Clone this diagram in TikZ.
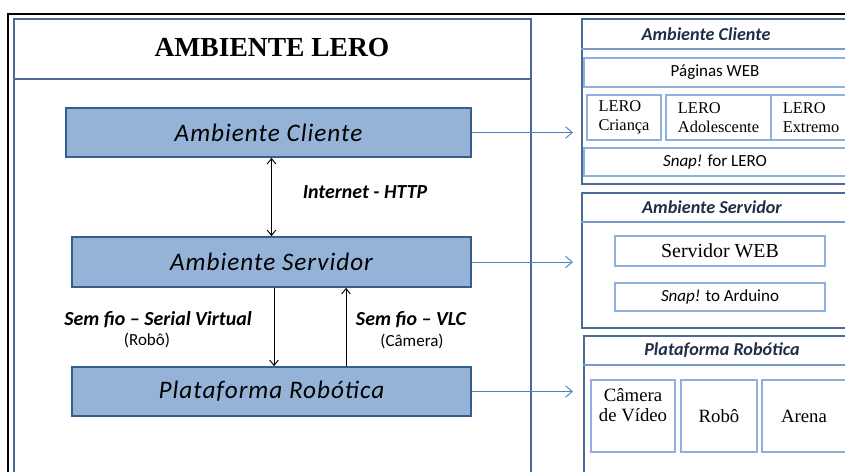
\documentclass[tikz,border=0pt]{standalone}
\usepackage{fontspec}
\setmainfont{Liberation Serif}
\newfontfamily\calibri{Carlito}
\newfontfamily\caixafont[LetterSpace=4]{Carlito}
\usetikzlibrary{arrows.meta}
\definecolor{caixaAzul}{HTML}{95B3D7}
\definecolor{bordaCaixa}{HTML}{385D8A}
\definecolor{bordaPainel}{HTML}{4A6B98}
\definecolor{bordaClara}{HTML}{8EB0DE}
\definecolor{setaAzul}{HTML}{4F81BD}
\definecolor{tituloAzul}{HTML}{1F2D4A}
\newcommand\pxu{0.03cm}

\begin{document}
\begin{tikzpicture}[x=0.03cm, y=-0.03cm,
    >={Straight Barb[length=1.6mm, width=2.6mm]},
    caixa/.style={shape=rectangle, draw=bordaCaixa, fill=caixaAzul, line width=1.5pt, inner sep=0pt, font=\caixafont\itshape\fontsize{21.5}{26}\selectfont},
    painel/.style={shape=rectangle, draw=bordaPainel, line width=1.6pt, anchor=north west, inner sep=0pt},
    divisao/.style={draw=bordaClara!70!bordaPainel, line width=1.2pt},
    interna/.style={shape=rectangle, draw=bordaClara, line width=1pt, inner sep=0pt},
    titulopainel/.style={font=\calibri\bfseries\itshape\fontsize{15.5}{18}\selectfont, text=tituloAzul},
    rotulo/.style={font=\calibri\bfseries\itshape\fontsize{17}{20}\selectfont},
    subrotulo/.style={font=\calibri\fontsize{14.5}{17}\selectfont},
    textocalibri/.style={font=\calibri\fontsize{14.5}{17}\selectfont},
    textoserifa/.style={font=\fontsize{16}{17}\selectfont},
    textolero/.style={font=\fontsize{14}{16.2}\selectfont, align=left},
    seta/.style={line width=0.8pt},
    ligacao/.style={draw=setaAzul, line width=0.8pt, >={Straight Barb[length=2mm, width=3.4mm]}, ->},
]
    \useasboundingbox (0,0) rectangle (845,471);
    \clip (0,0) rectangle (845,471);

    % --- Moldura preta ---
    \draw[line width=1.8pt] (8,480) |- (860,14);

    % --- Painel esquerdo ---
    \node[painel, minimum width=517*\pxu, minimum height=480*\pxu] (lero) at (13,18) {};
    \draw[draw=bordaPainel, line width=1.6pt] (13,79) -- (530,79);
    \node[font=\bfseries\fontsize{23.5}{28}\selectfont] (titulo) at (272,48) {AMBIENTE LERO};

    % --- Caixas azuis ---
    \node[caixa, minimum width=405*\pxu, minimum height=49*\pxu] (cliente) at (268.5,132.5) {Ambiente Cliente};
    \node[caixa, minimum width=399*\pxu, minimum height=50*\pxu] (servidor) at (271.5,262) {Ambiente Servidor};
    \node[caixa, minimum width=399*\pxu, minimum height=49*\pxu] (plataforma) at (271.5,391.5) {Plataforma Robótica};

    % --- Ligações entre as caixas ---
    \draw[seta, <->] (cliente.south -| servidor.north) -- (servidor.north);
    \draw[seta, ->] ([xshift=2.5*\pxu]servidor.south) -- ([xshift=2.5*\pxu]servidor.south |- plataforma.north);
    \draw[seta, ->] ([xshift=74.5*\pxu]plataforma.north) -- ([xshift=74.5*\pxu]plataforma.north |- servidor.south);

    \node[rotulo] (internet) at (365,192) {Internet - HTTP};
    \node[rotulo] (serial) at (158,320) {Sem fio – Serial Virtual};
    \node[subrotulo] (robo) at (147,340) {(Robô)};
    \node[rotulo] (vlc) at (411,320) {Sem fio – VLC};
    \node[subrotulo] (camera) at (412,341) {(Câmera)};

    % --- Setas para os painéis da direita ---
    \coordinate (fim) at (573,0);
    \draw[ligacao] (cliente.east) -- (cliente.east -| fim);
    \draw[ligacao] (servidor.east) -- (servidor.east -| fim);
    \draw[ligacao] (plataforma.east) -- (plataforma.east -| fim);

    % --- Painel Ambiente Cliente ---
    \node[painel, minimum width=280*\pxu, minimum height=165*\pxu] (pcliente) at (581,18) {};
    \draw[divisao] (581,49) -- (861,49);
    \node[titulopainel] (tcliente) at (706,34) {Ambiente Cliente};
    \node[interna, textocalibri, minimum width=262*\pxu, minimum height=29*\pxu] (paginas) at (715,72.5) {Páginas WEB};
    \node[interna, textolero, minimum width=74*\pxu, minimum height=45*\pxu] (crianca) at (624,117.5) {LERO\\Criança};
    \node[interna, textolero, minimum width=105*\pxu, minimum height=45*\pxu] (adolescente) at (718.5,117.5) {LERO\\Adolescente};
    \node[interna, textolero, minimum width=80*\pxu, minimum height=45*\pxu] (extremo) at (811,117.5) {LERO\\Extremo};
    \node[interna, textocalibri, minimum width=262*\pxu, minimum height=28*\pxu] (snaplero) at (715,162) {\textit{Snap!} for LERO};

    % --- Painel Ambiente Servidor ---
    \node[painel, minimum width=280*\pxu, minimum height=135*\pxu] (pservidor) at (581,192) {};
    \draw[divisao] (581,222) -- (861,222);
    \node[titulopainel] (tservidor) at (712,207) {Ambiente Servidor};
    \node[interna, font=\fontsize{17}{20}\selectfont, minimum width=210*\pxu, minimum height=30*\pxu] (web) at (720,251) {Servidor WEB};
    \node[interna, textocalibri, minimum width=210*\pxu, minimum height=28*\pxu] (arduino) at (720,297) {\textit{Snap!} to Arduino};

    % --- Painel Plataforma Robótica ---
    \node[painel, minimum width=280*\pxu, minimum height=160*\pxu] (pplataforma) at (583,335) {};
    \draw[divisao] (583,365) -- (863,365);
    \node[titulopainel] (tplataforma) at (722,350) {Plataforma Robótica};
    \node[interna, minimum width=84*\pxu, minimum height=72*\pxu] (cam) at (633,416) {};
    \node[textoserifa, align=center] (camtexto) at (633,405) {Câmera\\de Vídeo};
    \node[interna, textoserifa, minimum width=76*\pxu, minimum height=72*\pxu] (robô) at (719,416) {Robô};
    \node[interna, textoserifa, minimum width=84*\pxu, minimum height=72*\pxu] (arena) at (804,416) {Arena};
\end{tikzpicture}
\end{document}
